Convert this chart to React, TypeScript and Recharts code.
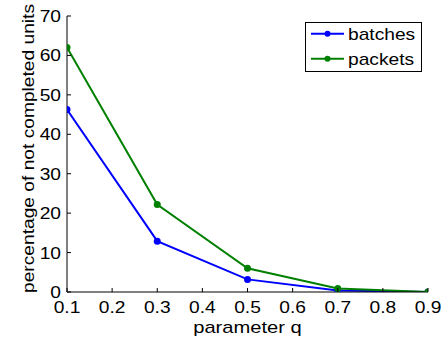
import { LineChart, Line, XAxis, YAxis, Legend } from 'recharts';

const qValues = [0.1, 0.3, 0.5, 0.7, 0.9];
const batches = [46.3, 12.9, 3.2, 0.4, 0];
const packets = [62.0, 22.2, 6.0, 0.9, 0];
const xTicks = [0.1, 0.2, 0.3, 0.4, 0.5, 0.6, 0.7, 0.8, 0.9];
const yTicks = [0, 10, 20, 30, 40, 50, 60, 70];

const data = qValues.map((q, i) => ({ q, batches: batches[i], packets: packets[i] }));

const FONT = '"Liberation Sans", Arial, sans-serif';
const FS = 16;
const SX = 1.2; // glyphs in the original are wider than Arial

const XTickBottom = (props: any) => {
  const { x, y, payload } = props;
  return (
    <g>
      <line x1={x} x2={x} y1={y} y2={y - 4} stroke="#000" />
      <text transform={`translate(${x},${y + 21}) scale(${SX},1)`} textAnchor="middle"
        fontSize={FS} fontFamily={FONT} fill="#000">{Number(payload.value).toFixed(1)}</text>
    </g>
  );
};

const XTickTop = (props: any) => {
  const { x, y } = props;
  return <line x1={x} x2={x} y1={y} y2={y + 4} stroke="#000" />;
};

const YTickLeft = (props: any) => {
  const { x, y, payload } = props;
  return (
    <g>
      <line x1={x} x2={x + 4} y1={y} y2={y} stroke="#000" />
      <text transform={`translate(${x - 6},${y + 6}) scale(${SX},1)`} textAnchor="end"
        fontSize={FS} fontFamily={FONT} fill="#000">{payload.value}</text>
    </g>
  );
};

const YTickRight = (props: any) => {
  const { x, y } = props;
  return <line x1={x} x2={x - 4} y1={y} y2={y} stroke="#000" />;
};

const YLabel = () => (
  <text transform={`translate(34,148.5) rotate(-90) scale(${SX},1)`} textAnchor="middle"
    fontSize={FS} fontFamily={FONT} fill="#000">percentage of not completed units</text>
);

const XLabel = () => (
  <text transform={`translate(247.5,333) scale(1.26,1)`} textAnchor="middle"
    fontSize={FS} fontFamily={FONT} fill="#000">parameter q</text>
);

const renderLegend = (props: any) => {
  const { payload } = props;
  return (
    <svg width={118} height={51} style={{ display: 'block' }}>
      <rect x={0.5} y={0.5} width={116} height={49} fill="#fff" stroke="#000" />
      {(payload || []).map((entry: any, i: number) => {
        const cy = 11.8 + i * 25;
        return (
          <g key={entry.value}>
            <line x1={6} x2={39} y1={cy} y2={cy} stroke={entry.color} strokeWidth={2} />
            <circle cx={22.5} cy={cy} r={3} fill={entry.color} />
            <text transform={`translate(43,${cy + 6.5}) scale(${SX},1)`} fontSize={FS}
              fontFamily={FONT} fill="#000">{entry.value}</text>
          </g>
        );
      })}
    </svg>
  );
};

export default function App() {
  return (
    <div style={{ position: 'absolute', left: 0, top: 0 }}>
      <LineChart width={445} height={341} data={data}
        margin={{ top: 16, right: 17, bottom: 0, left: 0 }}>
        <XAxis xAxisId="b" dataKey="q" type="number" domain={[0.1, 0.9]} ticks={xTicks}
          allowDataOverflow height={49} tickSize={0} tickMargin={0} tickLine={false}
          axisLine={{ stroke: '#000' }} tick={<XTickBottom />} interval={0}
          label={<XLabel />} />
        <XAxis xAxisId="t" orientation="top" dataKey="q" type="number" domain={[0.1, 0.9]}
          ticks={xTicks} allowDataOverflow height={0} tickSize={0} tickMargin={0}
          tickLine={false} axisLine={{ stroke: '#000' }} tick={<XTickTop />} interval={0} />
        <YAxis yAxisId="l" type="number" domain={[0, 70]} ticks={yTicks} allowDataOverflow
          width={67} tickSize={0} tickMargin={0} tickLine={false}
          axisLine={{ stroke: '#000' }} tick={<YTickLeft />} interval={0} label={<YLabel />} />
        <YAxis yAxisId="r" orientation="right" type="number" domain={[0, 70]} ticks={yTicks}
          allowDataOverflow width={0} tickSize={0} tickMargin={0} tickLine={false}
          axisLine={{ stroke: '#000' }} tick={<YTickRight />} interval={0} />
        <Legend layout="vertical" align="center" verticalAlign="middle" content={renderLegend}
          wrapperStyle={{ left: 305, top: 22, width: 118, height: 51 }} />
        <Line xAxisId="b" yAxisId="l" dataKey="batches" name="batches" stroke="#0000ff"
          strokeWidth={2} dot={{ r: 3.5, fill: '#0000ff', stroke: '#0000ff', strokeWidth: 0 }}
          isAnimationActive={false} />
        <Line xAxisId="b" yAxisId="l" dataKey="packets" name="packets" stroke="#008000"
          strokeWidth={2} dot={{ r: 3.5, fill: '#008000', stroke: '#008000', strokeWidth: 0 }}
          isAnimationActive={false} />
      </LineChart>
    </div>
  );
}
